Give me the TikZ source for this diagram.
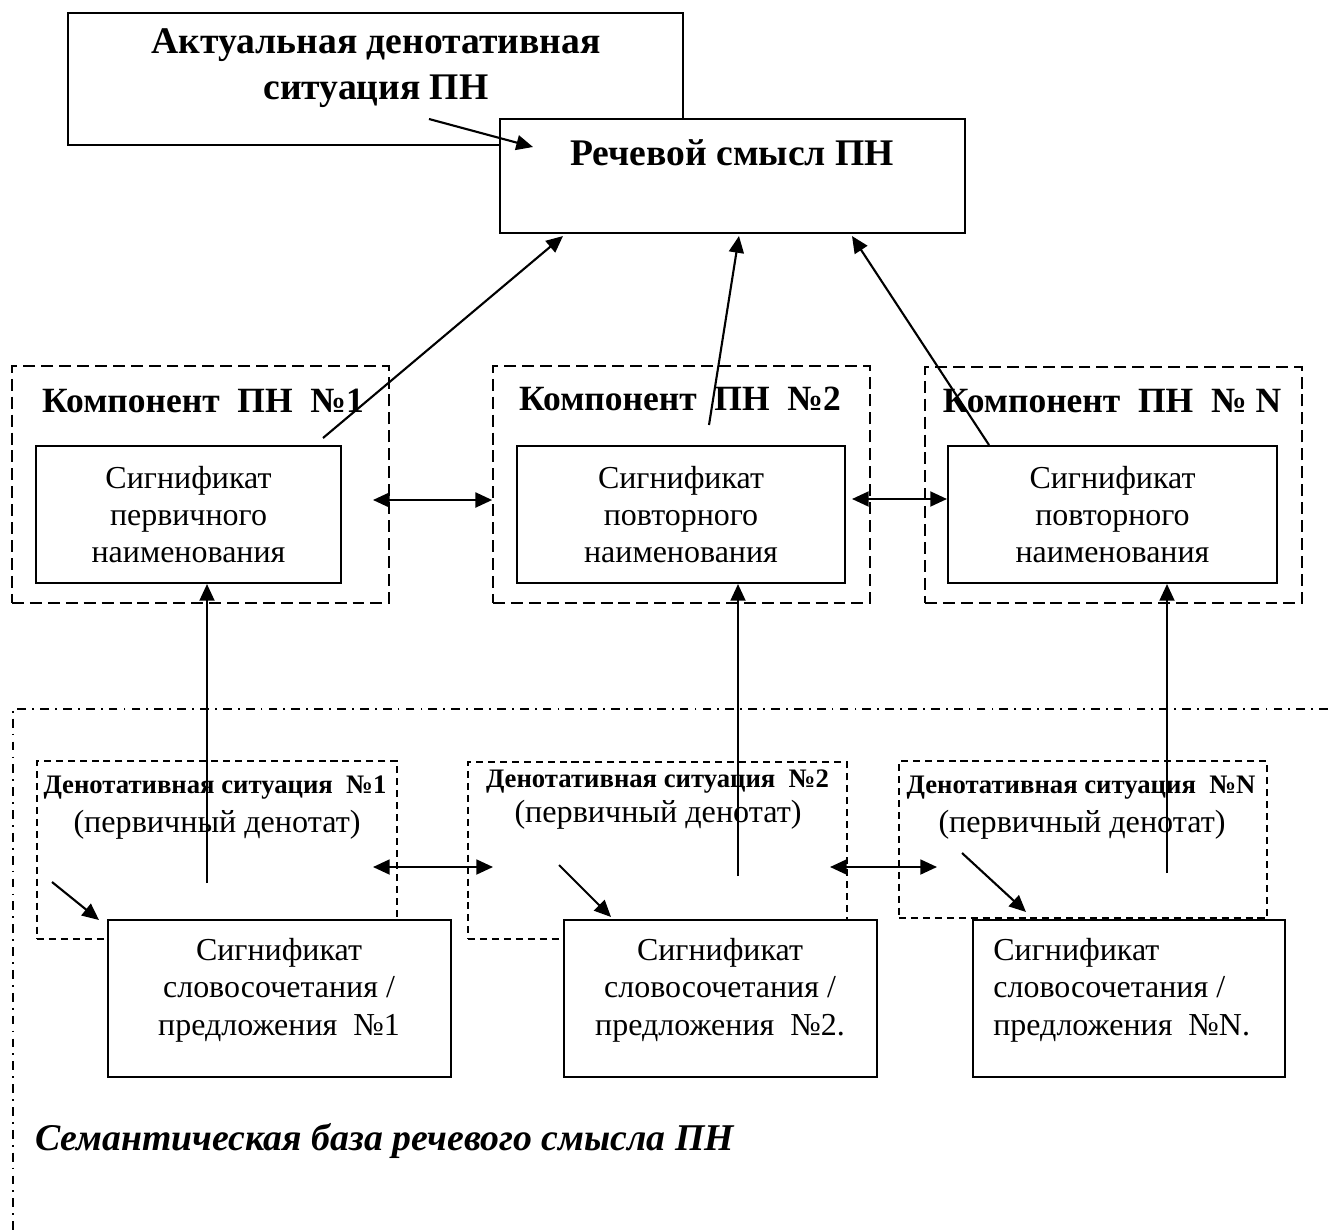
\documentclass[tikz,border=0pt]{standalone}
\usepackage{fontspec}
\setmainfont{Liberation Serif}
\usetikzlibrary{arrows.meta, calc, positioning}

\tikzset{
  boite/.style={draw, line width=1.2pt, fill=white, inner sep=0pt},
  cadre/.style={draw, line width=1pt, dash pattern=on 6.8pt off 3.4pt, inner sep=0pt},
  cadrefin/.style={draw, line width=0.9pt, dash pattern=on 4pt off 2.8pt, inner sep=0pt},
  tiretpoint/.style={line width=0.9pt, dash pattern=on 5pt off 3.5pt on 1pt off 3.5pt},
  fleche/.style={line width=1.2pt, -{Triangle[length=9.5pt, width=8.5pt]}},
  dfleche/.style={line width=1.2pt, {Triangle[length=9.5pt, width=8.5pt]}-{Triangle[length=9.5pt, width=8.5pt]}},
  grostitre/.style={font=\fontsize{21.4}{26.5}\selectfont\bfseries, align=center, inner sep=0pt},
  entete/.style={font=\fontsize{20.2}{24}\selectfont\bfseries, inner sep=0pt},
  texte/.style={font=\fontsize{18.2}{21.3}\selectfont, align=center},
  petittitre/.style={font=\fontsize{15.2}{18}\selectfont\bfseries, inner sep=0pt},
  soustitre/.style={font=\fontsize{18.3}{21}\selectfont, inner sep=0pt},
  base/.style={font=\fontsize{21.5}{25}\selectfont\bfseries\itshape, inner sep=0pt}
}

\begin{document}
\begin{tikzpicture}[x=0.02cm, y=-0.02cm]
    \useasboundingbox (0,0) rectangle (1328,1230);

    % Niveau haut
    \node[boite, minimum width=12.3cm, minimum height=2.64cm] (actuel) at (375.5,79) {};
    \node[grostitre] (actuelt) at (376,68) {Актуальная денотативная\\ситуация ПН};
    \node[boite, minimum width=9.3cm, minimum height=2.28cm] (rech) at (732.5,176) {};
    \node[grostitre] (recht) at (732,153) {Речевой смысл ПН};

    % Компоненты ПН
    \node[cadre, minimum width=7.54cm, minimum height=4.74cm] (komp1) at (200.5,484.5) {};
    \node[cadre, minimum width=7.54cm, minimum height=4.74cm] (komp2) at (681.5,484.5) {};
    \node[cadre, minimum width=7.54cm, minimum height=4.72cm] (kompN) at (1113.5,485) {};
    \node[entete] (komp1t) at (203,401) {Компонент\ \ ПН\ \ №1};
    \node[entete] (komp2t) at (680,399) {Компонент\ \ ПН\ \ №2};
    \node[entete] (kompNt) at (1112,401) {Компонент\ \ ПН\ \ № N};

    \node[boite, texte, minimum width=6.1cm, minimum height=2.74cm] (sig1) at (188.5,514.5) {Сигнификат\\первичного\\наименования};
    \node[boite, texte, minimum width=6.56cm, minimum height=2.74cm] (sig2) at (681,514.5) {Сигнификат\\повторного\\наименования};
    \node[boite, texte, minimum width=6.58cm, minimum height=2.74cm] (sigN) at (1112.5,514.5) {Сигнификат\\повторного\\наименования};

    % Семантическая база
    \draw[tiretpoint] (1328,709) -- (13,709) -- (13,1230);

    \node[cadrefin, minimum width=7.2cm, minimum height=3.56cm] (den1) at (217,850) {};
    \node[cadrefin, minimum width=7.58cm, minimum height=3.54cm] (den2) at (657.5,850.5) {};
    \node[cadrefin, minimum width=7.36cm, minimum height=3.14cm] (denN) at (1083,839.5) {};
    \node[petittitre] (den1t) at (215,788) {Денотативная ситуация\ \ №1};
    \node[soustitre] (den1s) at (217,825) {(первичный денотат)};
    \node[petittitre] (den2t) at (657.5,782) {Денотативная ситуация\ \ №2};
    \node[soustitre] (den2s) at (658,815) {(первичный денотат)};
    \node[petittitre] (denNt) at (1081,788) {Денотативная ситуация\ \ №N};
    \node[soustitre] (denNs) at (1082,825) {(первичный денотат)};

    \node[boite, minimum width=6.86cm, minimum height=3.14cm] (sl1) at (279.5,998.5) {};
    \node[boite, minimum width=6.26cm, minimum height=3.14cm] (sl2) at (720.5,998.5) {};
    \node[boite, minimum width=6.24cm, minimum height=3.14cm] (slN) at (1129,998.5) {};
    \node[texte] (sl1t) at (279,990) {Сигнификат\\словосочетания /\\предложения\ \ №1};
    \node[texte] (sl2t) at (720,990) {Сигнификат\\словосочетания /\\предложения\ \ №2.};
    \node[texte, align=left, anchor=west, inner sep=0pt] (slNt) at (993,990) {Сигнификат\\словосочетания /\\предложения\ \ №N.};

    \node[base, anchor=west] (baset) at (35,1141) {Семантическая база речевого смысла ПН};

    % Стрелки
    \coordinate (a0) at (429,119);
    \coordinate (a1) at (533,147);
    \draw[fleche] (a0) -- (a1);

    \coordinate (k1) at (323,438);
    \coordinate (k2) at (709,425);
    \coordinate (kN) at (989,445);
    \draw[fleche] (k1) -- ($(rech.south west)+(64,2)$);
    \draw[fleche] (k2) -- ($(rech.south west)+(240,2)$);
    \draw[fleche] (kN) -- ($(rech.south west)+(353,2)$);

    \coordinate (v1) at (207,883);
    \coordinate (v2) at (738,876);
    \coordinate (vN) at (1167,873);
    \draw[fleche] (v1) -- (v1 |- sig1.south);
    \draw[fleche] (v2) -- (v2 |- sig2.south);
    \draw[fleche] (vN) -- (vN |- sigN.south);

    \coordinate (h1) at (373,500);
    \coordinate (h2) at (852,499);
    \draw[dfleche] (h1) -- (h1 -| komp2.west);
    \draw[dfleche] (h2) -- (h2 -| sigN.west);

    \coordinate (b1a) at (373,867);
    \coordinate (b1b) at (493,867);
    \coordinate (b2a) at (830,867);
    \coordinate (b2b) at (937,867);
    \draw[dfleche] (b1a) -- (b1b);
    \draw[dfleche] (b2a) -- (b2b);

    \coordinate (d1) at (52,882);
    \coordinate (d2) at (559,865);
    \coordinate (dN) at (962,853);
    \draw[fleche] (d1) -- ($(sl1.north west)+(-8,1)$);
    \draw[fleche] (d2) -- ($(sl2.north west)+(48,-2)$);
    \draw[fleche] (dN) -- ($(slN.north west)+(54,-7)$);
\end{tikzpicture}
\end{document}
